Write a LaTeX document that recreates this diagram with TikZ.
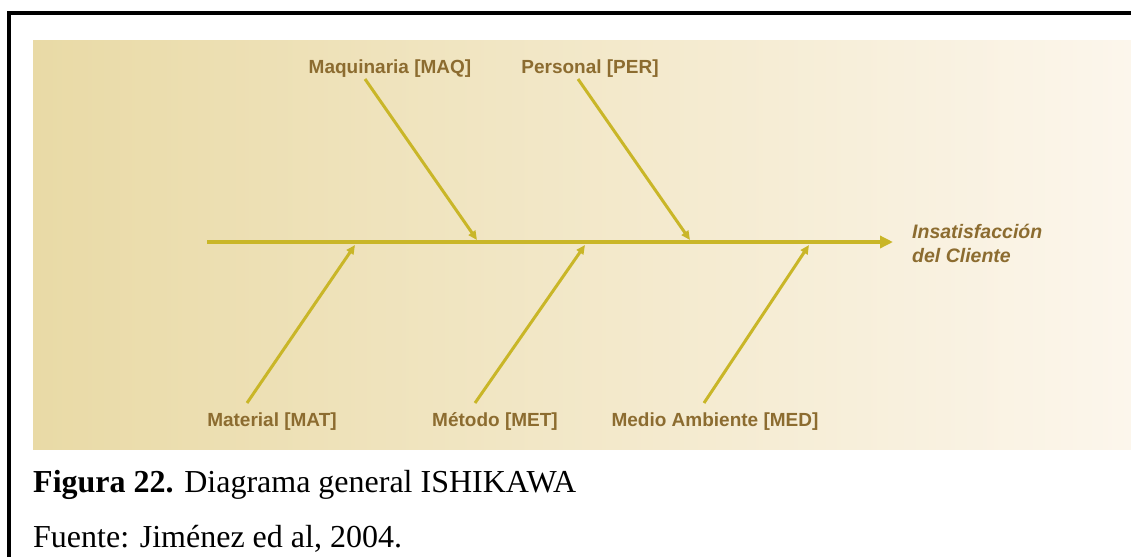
\documentclass[tikz,border=0pt]{standalone}
\usepackage{fontspec}
\setmainfont{Liberation Serif}
\newfontfamily\labfont{Liberation Sans}
\usetikzlibrary{arrows.meta}
\definecolor{bgleft}{RGB}{233,218,166}
\definecolor{bgright}{RGB}{252,246,236}
\definecolor{bone}{RGB}{201,182,40}
\definecolor{labbrown}{RGB}{140,108,48}
\tikzset{
  lab/.style={font=\labfont\bfseries\fontsize{19}{23}\selectfont, text=labbrown, inner sep=0pt, anchor=base},
  effect/.style={font=\labfont\bfseries\itshape\fontsize{19.5}{24}\selectfont, text=labbrown, inner sep=0pt, align=left},
  spine/.style={draw=bone, line width=4pt, -{Triangle[length=13pt,width=12pt]}},
  branch/.style={draw=bone, line width=3pt, -{Triangle[length=9pt,width=8pt]}},
  caption/.style={font=\fontsize{32}{36}\selectfont, inner sep=0pt, anchor=base west}
}
\begin{document}
\begin{tikzpicture}[x=1pt,y=-1pt]
\useasboundingbox (0,0) rectangle (1131,557);
\fill[white] (0,0) rectangle (1131,557);
% panel
\shade[left color=bgleft, right color=bgright] (33,40) rectangle (1131,449);
% frame (left and top edges)
\draw[line width=4pt] (9,557) -- (9,13) -- (1131,13);
% spine
\coordinate (s0) at (207,242);
\coordinate (s1) at (893,242);
\draw[spine] (s0) -- (s1);
% labels
\node[lab] (maq) at (390,73) {Maquinaria [MAQ]};
\node[lab] (per) at (590,73) {Personal [PER]};
\node[lab] (mat) at (272,426) {Material [MAT]};
\node[lab] (met) at (495,426) {Método [MET]};
\node[lab] (med) at (715,426) {Medio Ambiente [MED]};
\node[effect, anchor=base west] (eff) at (912,262) {Insatisfacción\\del Cliente};
% branch coordinates
\coordinate (maq0) at (365,79);  \coordinate (maq1) at (477,240);
\coordinate (per0) at (578,79);  \coordinate (per1) at (690,240);
\coordinate (mat0) at (247,403); \coordinate (mat1) at (355,245);
\coordinate (met0) at (475,403); \coordinate (met1) at (585,245);
\coordinate (med0) at (704,403); \coordinate (med1) at (809,245);
\draw[branch] (maq0) -- (maq1);
\draw[branch] (per0) -- (per1);
\draw[branch] (mat0) -- (mat1);
\draw[branch] (met0) -- (met1);
\draw[branch] (med0) -- (med1);
% caption
\node[caption] (cap) at (33,492) {\textbf{Figura 22.} Diagrama general ISHIKAWA};
\node[caption] (src) at (33,547) {Fuente: Jiménez ed al, 2004.};
\end{tikzpicture}
\end{document}
